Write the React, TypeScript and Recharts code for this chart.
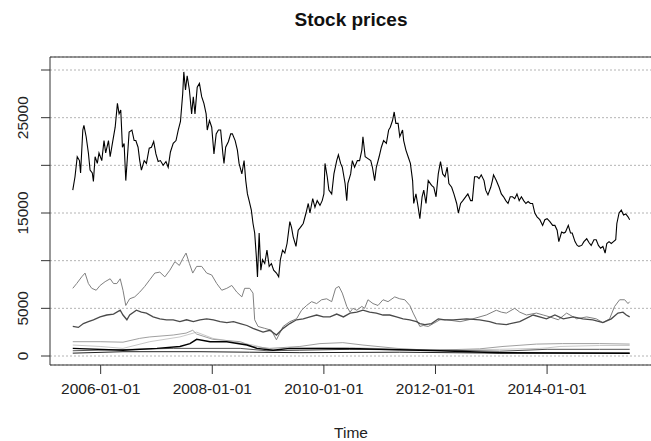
import React from 'react';
import { LineChart, Line, XAxis, YAxis, CartesianGrid, ReferenceLine } from 'recharts';

// decimal year, price
const xTicks = [2006, 2008, 2010, 2012, 2014];
const yTicks = [0, 5000, 10000, 15000, 20000, 25000, 30000];
const yLabelled = [0, 5000, 15000, 25000];

const index1: [number, number][] = [
  [2005.50,17400],[2005.54,18800],[2005.58,20900],[2005.62,20500],[2005.64,19200],[2005.68,23700],[2005.70,24200],[2005.74,23000],
  [2005.78,21300],[2005.81,19500],[2005.85,19200],[2005.87,18300],[2005.90,20900],[2005.94,20200],[2005.97,21300],[2006.02,20500],
  [2006.06,22600],[2006.09,21300],[2006.14,22600],[2006.17,20900],[2006.21,22300],[2006.26,24000],[2006.30,26500],[2006.33,25400],
  [2006.36,25800],[2006.39,21900],[2006.42,22300],[2006.45,18400],[2006.48,20900],[2006.51,23500],[2006.56,23700],[2006.60,22600],
  [2006.63,22600],[2006.67,21900],[2006.70,20500],[2006.73,19500],[2006.78,20500],[2006.82,20200],[2006.87,21800],[2006.91,21900],
  [2006.95,22500],[2006.99,21200],[2007.03,20400],[2007.07,20500],[2007.12,20000],[2007.17,20400],[2007.21,19800],[2007.25,21400],
  [2007.30,22300],[2007.35,22600],[2007.39,23700],[2007.43,24600],[2007.47,27500],[2007.49,29800],[2007.52,27900],[2007.55,29400],
  [2007.59,27900],[2007.63,25400],[2007.66,27200],[2007.69,25400],[2007.73,28200],[2007.77,28600],[2007.81,27200],[2007.85,26500],
  [2007.89,25400],[2007.91,23700],[2007.95,24700],[2007.99,24000],[2008.03,21200],[2008.07,23300],[2008.11,23700],[2008.15,23700],
  [2008.19,21200],[2008.21,20200],[2008.24,21900],[2008.29,22500],[2008.33,23300],[2008.36,23300],[2008.41,22600],[2008.45,21600],
  [2008.48,20200],[2008.53,19100],[2008.57,20500],[2008.60,18400],[2008.63,17000],[2008.66,16300],[2008.70,15300],[2008.73,13900],
  [2008.76,12900],[2008.79,10400],[2008.81,8300],[2008.84,12900],[2008.87,9000],[2008.90,10100],[2008.94,9700],[2008.98,11100],
  [2009.02,9400],[2009.06,9700],[2009.10,9000],[2009.15,8700],[2009.19,8300],[2009.22,10100],[2009.26,11100],[2009.30,10800],
  [2009.34,11800],[2009.39,14100],[2009.42,13500],[2009.45,12500],[2009.50,11500],[2009.54,13200],[2009.58,13500],[2009.63,13900],
  [2009.68,15000],[2009.72,16000],[2009.75,15000],[2009.80,16500],[2009.84,15600],[2009.88,16300],[2009.93,15800],[2009.97,16300],
  [2010.00,17000],[2010.02,20200],[2010.06,18800],[2010.09,17400],[2010.14,17000],[2010.18,19100],[2010.23,20500],[2010.26,21100],
  [2010.30,20200],[2010.33,19800],[2010.38,18100],[2010.41,16300],[2010.43,18100],[2010.48,19100],[2010.51,20500],[2010.55,19800],
  [2010.60,20500],[2010.64,20500],[2010.68,21600],[2010.70,23000],[2010.74,20900],[2010.79,20700],[2010.84,20500],[2010.87,19800],
  [2010.91,18400],[2010.94,19800],[2010.99,20900],[2011.03,21900],[2011.07,22600],[2011.12,22300],[2011.16,23700],[2011.19,24000],
  [2011.23,24700],[2011.26,25600],[2011.29,24400],[2011.33,24400],[2011.36,23000],[2011.41,23700],[2011.43,22600],[2011.47,21600],
  [2011.51,20900],[2011.55,20200],[2011.59,18400],[2011.61,16000],[2011.65,17000],[2011.69,15600],[2011.72,14400],[2011.76,16700],
  [2011.79,17400],[2011.83,16000],[2011.87,18400],[2011.93,17900],[2011.97,17700],[2012.01,16700],[2012.05,19100],[2012.09,20400],
  [2012.13,19100],[2012.17,18800],[2012.21,19800],[2012.24,18100],[2012.29,17700],[2012.33,17000],[2012.38,16000],[2012.41,15000],
  [2012.45,16000],[2012.49,16300],[2012.54,16700],[2012.58,17000],[2012.63,16300],[2012.66,16300],[2012.70,18800],[2012.75,18800],
  [2012.78,18600],[2012.82,19000],[2012.87,18400],[2012.90,17400],[2012.94,16900],[2012.99,17700],[2013.02,18400],[2013.04,19000],
  [2013.09,18400],[2013.14,17700],[2013.18,17000],[2013.22,16700],[2013.26,16300],[2013.30,16000],[2013.34,16700],[2013.38,16700],
  [2013.42,16500],[2013.46,17000],[2013.50,16300],[2013.54,16700],[2013.58,16300],[2013.62,16000],[2013.66,16200],[2013.70,16000],
  [2013.74,16000],[2013.78,15000],[2013.82,14600],[2013.87,14300],[2013.92,13700],[2013.96,14300],[2014.00,14400],[2014.05,14100],
  [2014.10,13700],[2014.14,13700],[2014.18,13200],[2014.21,12000],[2014.26,13000],[2014.30,12900],[2014.33,13000],[2014.38,13700],
  [2014.42,12900],[2014.45,12900],[2014.50,12000],[2014.54,11600],[2014.57,11500],[2014.62,11600],[2014.66,12000],[2014.71,12300],
  [2014.75,11900],[2014.79,11600],[2014.84,12200],[2014.88,12200],[2014.92,11600],[2014.96,11300],[2015.00,11500],[2015.04,10800],
  [2015.07,11800],[2015.11,12000],[2015.15,11800],[2015.19,12000],[2015.23,12200],[2015.25,13900],[2015.29,15000],[2015.33,15300],
  [2015.37,14800],[2015.41,14900],[2015.45,14600],[2015.48,14300],
];

const index2: [number, number][] = [
  [2005.50,7100],[2005.57,7600],[2005.66,8300],[2005.72,8700],[2005.78,7600],[2005.84,7100],[2005.92,6900],[2005.99,7400],
  [2006.08,7800],[2006.17,8100],[2006.23,7600],[2006.29,7600],[2006.35,8100],[2006.40,6900],[2006.45,5300],[2006.52,6000],
  [2006.61,6200],[2006.70,6700],[2006.79,7300],[2006.88,8000],[2006.97,8700],[2007.06,8800],[2007.15,8300],[2007.24,9000],
  [2007.33,9900],[2007.41,9500],[2007.47,10200],[2007.53,10800],[2007.59,9700],[2007.65,8700],[2007.72,9400],[2007.81,9400],
  [2007.90,8700],[2007.99,8500],[2008.08,7600],[2008.17,6900],[2008.26,7100],[2008.35,7400],[2008.44,6700],[2008.53,6200],
  [2008.58,7100],[2008.67,7100],[2008.73,6600],[2008.76,3800],[2008.82,3100],[2008.94,2900],[2009.06,2700],[2009.15,1700],
  [2009.21,2400],[2009.27,3100],[2009.39,3600],[2009.51,3900],[2009.60,4800],[2009.69,5300],[2009.78,5700],[2009.87,5500],
  [2009.96,5900],[2010.05,6000],[2010.14,5700],[2010.21,7100],[2010.27,7300],[2010.33,6600],[2010.41,5200],[2010.47,4600],
  [2010.52,5000],[2010.59,4800],[2010.68,5200],[2010.73,5000],[2010.79,5900],[2010.88,5500],[2010.97,5300],[2011.06,5900],
  [2011.15,5700],[2011.27,6200],[2011.36,6000],[2011.45,5900],[2011.54,5300],[2011.60,4500],[2011.66,3800],[2011.72,3100],
  [2011.78,3200],[2011.87,3100],[2011.96,3400],[2012.08,3800],[2012.20,3800],[2012.44,3600],[2012.67,3900],[2012.91,4300],
  [2013.09,4800],[2013.18,4600],[2013.27,4500],[2013.42,5000],[2013.51,4600],[2013.63,4300],[2013.81,4500],[2013.93,4300],
  [2014.05,4100],[2014.20,3800],[2014.35,4500],[2014.53,3900],[2014.71,4100],[2014.88,3900],[2015.00,3500],[2015.12,3900],
  [2015.21,5200],[2015.30,5900],[2015.39,5900],[2015.45,5500],[2015.48,5700],
];

const index3: [number, number][] = [
  [2005.50,3100],[2005.60,3000],[2005.69,3400],[2005.78,3600],[2005.87,3800],[2005.99,4100],[2006.11,4300],[2006.23,4400],
  [2006.35,4800],[2006.40,4300],[2006.47,3800],[2006.52,4300],[2006.64,4800],[2006.73,4600],[2006.82,4500],[2006.94,4100],
  [2007.06,3900],[2007.18,3800],[2007.30,3800],[2007.42,3600],[2007.54,3800],[2007.66,3600],[2007.78,3800],[2007.90,3900],
  [2008.02,3800],[2008.14,3600],[2008.26,3500],[2008.38,3600],[2008.50,3400],[2008.62,3200],[2008.73,2900],[2008.91,2500],
  [2009.03,2700],[2009.15,2200],[2009.27,2900],[2009.39,3400],[2009.51,3800],[2009.63,3900],[2009.75,4100],[2009.87,4300],
  [2009.99,4100],[2010.11,4100],[2010.23,4400],[2010.35,4100],[2010.47,4500],[2010.59,4600],[2010.70,4800],[2010.82,4600],
  [2010.94,4500],[2011.06,4300],[2011.18,4300],[2011.30,4100],[2011.42,3900],[2011.54,3800],[2011.66,3600],[2011.72,3400],
  [2011.81,3300],[2011.93,3400],[2012.05,3900],[2012.17,3800],[2012.32,3800],[2012.56,3900],[2012.79,3800],[2012.97,3600],
  [2013.09,3400],[2013.27,3300],[2013.51,3600],[2013.75,4300],[2013.99,3900],[2014.14,4300],[2014.29,3900],[2014.47,4100],
  [2014.64,3900],[2014.82,3800],[2015.00,3500],[2015.15,3900],[2015.27,4500],[2015.36,4600],[2015.42,4300],[2015.48,4100],
];

const index4: [number, number][] = [
  [2005.50,1500],[2005.99,1500],[2006.40,1450],[2006.70,1850],[2006.88,2000],[2007.30,2200],[2007.53,2400],[2007.65,2700],
  [2007.72,2300],[2008.01,1750],[2008.50,1500],[2008.73,1000],[2009.03,800],[2009.57,1000],[2009.93,1300],[2010.34,1400],
  [2010.70,1150],[2011.31,800],[2011.90,600],[2012.79,750],[2013.21,1000],[2013.81,1250],[2014.28,1300],[2014.94,1300],
  [2015.48,1250],
];

const index5: [number, number][] = [
  [2005.50,1150],[2005.99,1000],[2006.40,800],[2006.88,1500],[2007.42,2000],[2007.72,2500],[2008.01,1850],[2008.37,1500],
  [2008.73,1150],[2009.03,700],[2009.57,800],[2010.46,900],[2011.36,700],[2012.26,600],[2013.15,700],[2013.87,800],
  [2014.00,850],[2014.23,1000],[2014.94,1100],[2015.48,1100],
];

const index6: [number, number][] = [
  [2005.50,800],[2006.40,600],[2007.01,800],[2007.42,1000],[2007.60,1300],[2007.72,1750],[2007.96,1500],[2008.26,1500],
  [2008.62,1150],[2008.80,800],[2009.09,600],[2009.39,800],[2009.93,800],[2010.64,750],[2011.35,650],[2012.08,550],
  [2012.61,450],[2013.15,350],[2015.48,300],
];

const index7: [number, number][] = [
  [2005.50,550],[2007.30,800],[2008.50,800],[2008.98,550],[2009.57,600],[2010.46,700],[2011.36,650],[2012.26,600],
  [2013.15,500],[2014.00,700],[2014.94,700],[2015.48,700],
];

const index8: [number, number][] = [
  [2005.50,300],[2006.40,450],[2007.78,450],[2008.67,400],[2009.57,350],[2011.36,400],[2013.15,300],[2015.48,300],
];

const toRows = (pts: [number, number][]) => pts.map(([t, v]) => ({ t, v }));

const series = [
  { name: 'index5', points: index5, color: '#c8c8c8', width: 1 },
  { name: 'index4', points: index4, color: '#a0a0a0', width: 1 },
  { name: 'index7', points: index7, color: '#555555', width: 1 },
  { name: 'index8', points: index8, color: '#222222', width: 1 },
  { name: 'index6', points: index6, color: '#000000', width: 1.5 },
  { name: 'index2', points: index2, color: '#808080', width: 1 },
  { name: 'index3', points: index3, color: '#4a4a4a', width: 1.3 },
  { name: 'index1', points: index1, color: '#000000', width: 1.1 },
];

const X_MIN = 2005.092;
const X_MAX = 2015.88;
const Y_MIN = -944;
const Y_MAX = 31365;
const FONT = '"Liberation Sans", Arial, sans-serif';

const YTick = (props: any) => {
  const { y, payload } = props;
  const label = yLabelled.includes(payload.value) ? String(payload.value) : '';
  return (
    <text
      x={23}
      y={y}
      transform={`rotate(-90 23 ${y})`}
      textAnchor="middle"
      dominantBaseline="central"
      fontSize={15.5}
      fill="#222"
      fontFamily={FONT}
    >
      {label}
    </text>
  );
};

export default function App() {
  return (
    <div style={{ position: 'absolute', left: 0, top: 0, width: 651, height: 441, overflow: 'hidden', background: '#fff' }}>
      <div
        style={{
          position: 'absolute', left: 151, width: 400, top: 9, textAlign: 'center',
          fontFamily: FONT, fontWeight: 'bold', fontSize: 19, lineHeight: '22px', color: '#111',
        }}
      >
        Stock prices
      </div>
      <div
        style={{
          position: 'absolute', left: 251, width: 200, top: 424, textAlign: 'center',
          fontFamily: FONT, fontSize: 15.5, lineHeight: '18px', color: '#222',
        }}
      >
        Time
      </div>
      <LineChart width={660} height={441} margin={{ top: 57, right: 8, left: 0, bottom: 16 }}>
        <CartesianGrid vertical={false} stroke="#b4b4b4" strokeDasharray="2 2" />
        <XAxis
          type="number"
          dataKey="t"
          domain={[X_MIN, X_MAX]}
          allowDataOverflow
          ticks={xTicks}
          interval={0}
          tickFormatter={(v: number) => `${v}-01-01`}
          height={60}
          tickSize={9}
          tickMargin={9}
          axisLine={{ stroke: '#333' }}
          tickLine={{ stroke: '#333' }}
          tick={{ fontSize: 15.5, fill: '#222', fontFamily: FONT }}
        />
        <YAxis
          type="number"
          domain={[Y_MIN, Y_MAX]}
          allowDataOverflow
          ticks={yTicks}
          interval={0}
          width={50}
          tickSize={9}
          axisLine={{ stroke: '#333' }}
          tickLine={{ stroke: '#333' }}
          tick={<YTick />}
        />
        <ReferenceLine y={Y_MAX} stroke="#333" />
        {series.map((s) => (
          <Line
            key={s.name}
            name={s.name}
            data={toRows(s.points)}
            dataKey="v"
            type="linear"
            stroke={s.color}
            strokeWidth={s.width}
            dot={false}
            activeDot={false}
            isAnimationActive={false}
          />
        ))}
      </LineChart>
    </div>
  );
}
